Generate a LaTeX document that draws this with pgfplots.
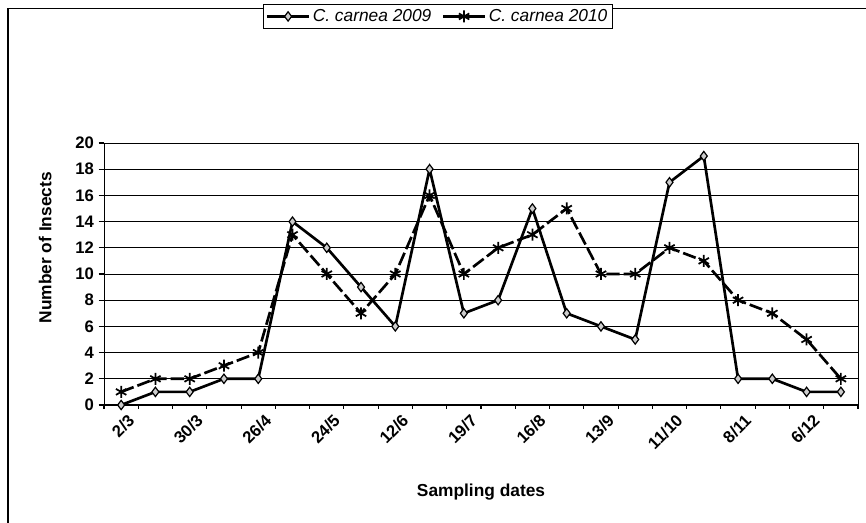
\documentclass[border=0pt]{standalone}
\usepackage{fontspec}
\setmainfont{Liberation Sans}
\usepackage{pgfplots}
\pgfplotsset{compat=1.18}
\begin{document}
\begin{tikzpicture}
\useasboundingbox (0,0) rectangle (649.5pt,392.25pt);
\draw[line width=1.2pt] (6pt,0) -- (6pt,386pt) -- (649.5pt,386pt);
\begin{axis}[
  scale only axis, width=565.5pt, height=196.5pt,
  at={(78pt,88.5pt)}, anchor=south west,
  xmin=-0.5, xmax=21.5, ymin=0, ymax=20,
  xtick={0,2,...,20},
  xticklabels={2/3,30/3,26/4,24/5,12/6,19/7,16/8,13/9,11/10,8/11,6/12},
  minor xtick={-0.5,0.5,...,21.5},
  major x tick style={draw=none},
  ytick={0,2,...,20},
  tick align=outside, tick pos=left,
  major tick length=4pt, minor tick length=3pt,
  every tick/.style={black, line width=0.8pt},
  ymajorgrids, grid style={black, line width=0.6pt},
  axis line style={line width=0.7pt},
  /pgf/number format/assume math mode=true,
  yticklabel style={font=\bfseries\fontsize{12.5}{14}\selectfont},
  xticklabel style={rotate=45, anchor=north east, font=\bfseries\fontsize{12.5}{14}\selectfont, xshift=5pt, yshift=-1pt},
  xlabel={Sampling dates},
  xlabel style={at={(axis description cs:0.5,-0.332)}, anchor=center, font=\bfseries\fontsize{13}{15}\selectfont},
  ylabel={Number of Insects},
  ylabel style={at={(axis description cs:-0.078,0.6)}, anchor=center, font=\bfseries\fontsize{13}{15}\selectfont},
  legend style={at={(axis description cs:0.443,1.483)}, anchor=center, legend columns=2, draw=black, line width=0.7pt,
     font=\itshape\fontsize{13}{15}\selectfont, inner sep=2pt,
     /tikz/every even column/.append style={column sep=6pt}},
  legend image code/.code={\draw[#1, solid] (0cm,0cm) -- (1.1cm,0cm); \draw[#1, mark repeat=1] plot coordinates {(0.55cm,0cm)};},
  legend image post style={line width=1.8pt},
]
\addplot[black, line width=2pt, mark=diamond*, mark size=3.5pt, mark options={solid, fill=gray!40, draw=black, line width=0.9pt}]
  coordinates {(0,0)(1,1)(2,1)(3,2)(4,2)(5,14)(6,12)(7,9)(8,6)(9,18)(10,7)(11,8)(12,15)(13,7)(14,6)(15,5)(16,17)(17,19)(18,2)(19,2)(20,1)(21,1)};
\addlegendentry{C. carnea 2009}
\addplot[black, line width=2pt, dash pattern=on 10pt off 3pt, mark=asterisk, mark size=4.5pt, mark options={solid, line width=1.3pt}]
  coordinates {(0,1)(1,2)(2,2)(3,3)(4,4)(5,13)(6,10)(7,7)(8,10)(9,16)(10,10)(11,12)(12,13)(13,15)(14,10)(15,10)(16,12)(17,11)(18,8)(19,7)(20,5)(21,2)};
\addlegendentry{C. carnea 2010}
\draw[line width=1.8pt] (rel axis cs:0,1) -- (rel axis cs:0,0) -- (rel axis cs:1,0);
\end{axis}
\end{tikzpicture}
\end{document}
